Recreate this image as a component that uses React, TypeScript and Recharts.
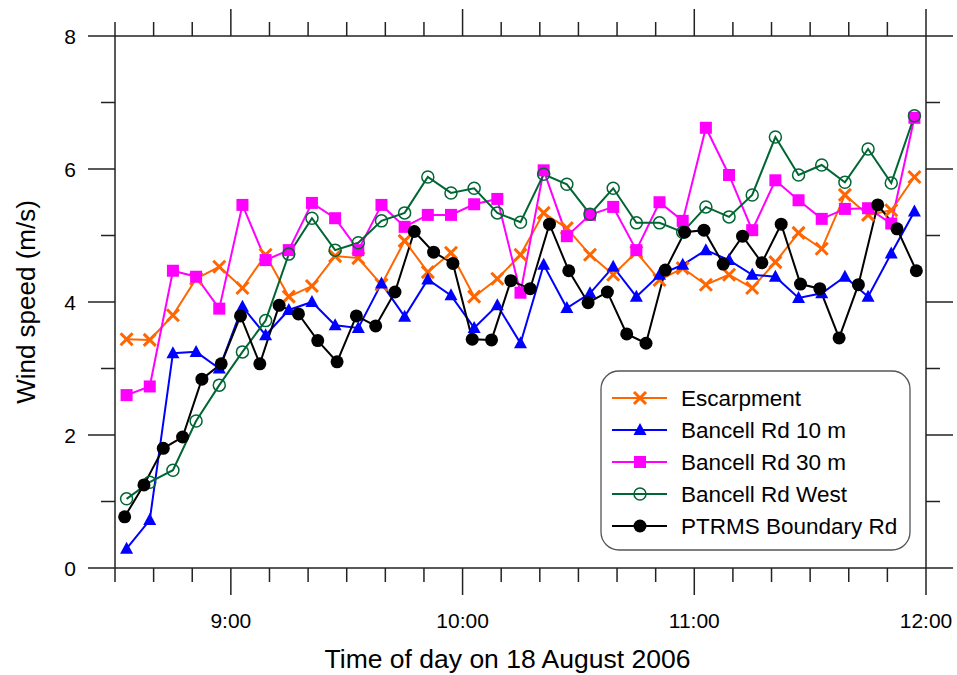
import React from 'react';
import { LineChart, Line, XAxis, YAxis, Label } from 'recharts';

// sample times (hh:mm[:ss]) and wind speeds (m/s)
const timesSixMin = [
  '08:33', '08:39', '08:45', '08:51', '08:57', '09:03', '09:09', '09:15', '09:21', '09:27',
  '09:33', '09:39', '09:45', '09:51', '09:57', '10:03', '10:09', '10:15', '10:21', '10:27',
  '10:33', '10:39', '10:45', '10:51', '10:57', '11:03', '11:09', '11:15', '11:21', '11:27',
  '11:33', '11:39', '11:45', '11:51', '11:57',
];

const escarpment = [
  3.44, 3.43, 3.8, 4.35, 4.53, 4.21, 4.71, 4.08, 4.24, 4.69,
  4.66, 4.26, 4.92, 4.45, 4.74, 4.08, 4.35, 4.71, 5.34, 5.11,
  4.71, 4.41, 4.75, 4.33, 4.51, 4.26, 4.41, 4.21, 4.6, 5.04,
  4.8, 5.61, 5.31, 5.38, 5.88,
];

const bancell10 = [
  0.29, 0.72, 3.23, 3.25, 3.0, 3.93, 3.5, 3.88, 4.0, 3.65,
  3.61, 4.28, 3.78, 4.34, 4.1, 3.61, 3.95, 3.38, 4.56, 3.91,
  4.13, 4.53, 4.08, 4.41, 4.56, 4.78, 4.63, 4.41, 4.38, 4.06,
  4.13, 4.38, 4.08, 4.73, 5.36,
];

const bancell30 = [
  2.6, 2.73, 4.47, 4.38, 3.9, 5.46, 4.63, 4.78, 5.49, 5.26,
  4.78, 5.46, 5.13, 5.31, 5.31, 5.47, 5.55, 4.14, 5.98, 4.99,
  5.31, 5.43, 4.78, 5.5, 5.22, 6.62, 5.91, 5.08, 5.83, 5.53,
  5.25, 5.4, 5.41, 5.18, 6.77,
];

const bancellWest = [
  1.04, 1.29, 1.47, 2.21, 2.75, 3.25, 3.72, 4.72, 5.26, 4.78,
  4.89, 5.22, 5.34, 5.88, 5.64, 5.71, 5.34, 5.2, 5.92, 5.77,
  5.32, 5.71, 5.19, 5.19, 5.05, 5.43, 5.28, 5.61, 6.48, 5.91,
  6.06, 5.8, 6.3, 5.79, 6.8,
];

const timesFiveMin = [
  '08:32:30', '08:37:30', '08:42:30', '08:47:30', '08:52:30', '08:57:30',
  '09:02:30', '09:07:30', '09:12:30', '09:17:30', '09:22:30', '09:27:30',
  '09:32:30', '09:37:30', '09:42:30', '09:47:30', '09:52:30', '09:57:30',
  '10:02:30', '10:07:30', '10:12:30', '10:17:30', '10:22:30', '10:27:30',
  '10:32:30', '10:37:30', '10:42:30', '10:47:30', '10:52:30', '10:57:30',
  '11:02:30', '11:07:30', '11:12:30', '11:17:30', '11:22:30', '11:27:30',
  '11:32:30', '11:37:30', '11:42:30', '11:47:30', '11:52:30', '11:57:30',
];

const ptrmsBoundary = [
  0.77, 1.25, 1.8, 1.97, 2.84, 3.07, 3.79, 3.07, 3.95, 3.82,
  3.42, 3.1, 3.79, 3.64, 4.15, 5.06, 4.75, 4.58, 3.44, 3.43,
  4.32, 4.2, 5.17, 4.47, 3.99, 4.15, 3.52, 3.38, 4.48, 5.05,
  5.08, 4.57, 4.99, 4.59, 5.17, 4.27, 4.2, 3.46, 4.26, 5.46,
  5.1, 4.47,
];

// x ticks in minutes since midnight (every 10 min, 8:30 - 12:00)
const xTicks = [
  510, 520, 530, 540, 550, 560, 570, 580, 590, 600, 610,
  620, 630, 640, 650, 660, 670, 680, 690, 700, 710, 720,
];
const hourLabels: Record<number, string> = { 540: '9:00', 600: '10:00', 660: '11:00', 720: '12:00' };
const yTicks = [0, 1, 2, 3, 4, 5, 6, 7, 8];

const toMin = (s: string) => {
  const [h, m, sec] = s.split(':').map(Number);
  return h * 60 + m + (sec || 0) / 60;
};
const rows = (times: string[], vals: number[]) => times.map((t, i) => ({ t: toMin(t), v: vals[i] }));

type Shape = 'cross' | 'triangle' | 'square' | 'ring' | 'dot';

const series: { name: string; color: string; shape: Shape; data: { t: number; v: number }[] }[] = [
  { name: 'Escarpment', color: '#ff6600', shape: 'cross', data: rows(timesSixMin, escarpment) },
  { name: 'Bancell Rd 10 m', color: '#0000ff', shape: 'triangle', data: rows(timesSixMin, bancell10) },
  { name: 'Bancell Rd 30 m', color: '#ff00ff', shape: 'square', data: rows(timesSixMin, bancell30) },
  { name: 'Bancell Rd West', color: '#006633', shape: 'ring', data: rows(timesSixMin, bancellWest) },
  { name: 'PTRMS Boundary Rd', color: '#000000', shape: 'dot', data: rows(timesFiveMin, ptrmsBoundary) },
];

const AXIS = '#222';
const FONT = '"Liberation Sans", Arial, sans-serif';

const Marker = ({ cx, cy, shape, color }: { cx: number; cy: number; shape: Shape; color: string }) => {
  if (cx == null || cy == null) return null;
  switch (shape) {
    case 'cross':
      return (
        <g stroke={color} strokeWidth={3}>
          <line x1={cx - 6} y1={cy - 6} x2={cx + 6} y2={cy + 6} />
          <line x1={cx - 6} y1={cy + 6} x2={cx + 6} y2={cy - 6} />
        </g>
      );
    case 'triangle':
      return <polygon points={`${cx},${cy - 7} ${cx - 6.5},${cy + 5} ${cx + 6.5},${cy + 5}`} fill={color} />;
    case 'square':
      return <rect x={cx - 6} y={cy - 6} width={12} height={12} fill={color} />;
    case 'ring':
      return <circle cx={cx} cy={cy} r={6} fill="none" stroke={color} strokeWidth={1.5} />;
    default:
      return <circle cx={cx} cy={cy} r={6.5} fill={color} />;
  }
};

const BottomTick = ({ x, y, payload }: any) => {
  const major = payload.value % 60 === 0;
  return (
    <g>
      <line x1={x} x2={x} y1={y} y2={y + (major ? 27 : 14)} stroke={AXIS} strokeWidth={1.5} />
      {major && (
        <text x={x} y={y + 52} textAnchor="middle" dominantBaseline="central" fontSize={21} fill="#000">
          {hourLabels[payload.value]}
        </text>
      )}
    </g>
  );
};

const TopTick = ({ x, y, payload }: any) => {
  const major = payload.value % 60 === 0;
  return <line x1={x} x2={x} y1={y} y2={y - (major ? 27 : 14)} stroke={AXIS} strokeWidth={1.5} />;
};

const LeftTick = ({ x, y, payload }: any) => {
  const major = payload.value % 2 === 0;
  return (
    <g>
      <line x1={x} x2={x - (major ? 27 : 14)} y1={y} y2={y} stroke={AXIS} strokeWidth={1.5} />
      {major && (
        <text x={x - 39} y={y} textAnchor="end" dominantBaseline="central" fontSize={21} fill="#000">
          {payload.value}
        </text>
      )}
    </g>
  );
};

const RightTick = ({ x, y, payload }: any) => {
  const major = payload.value % 2 === 0;
  return <line x1={x} x2={x + (major ? 27 : 14)} y1={y} y2={y} stroke={AXIS} strokeWidth={1.5} />;
};

const XTitle = ({ viewBox }: any) => (
  <text x={viewBox.x + viewBox.width / 2 - 13} y={668} textAnchor="middle" fontSize={26.5} fill="#000">
    Time of day on 18 August 2006
  </text>
);

const YTitle = ({ viewBox }: any) => {
  const cx = 26;
  const cy = viewBox.y + viewBox.height / 2;
  return (
    <text
      x={cx}
      y={cy}
      transform={`rotate(-90 ${cx} ${cy})`}
      textAnchor="middle"
      dominantBaseline="central"
      fontSize={26}
      fill="#000"
    >
      Wind speed (m/s)
    </text>
  );
};

const LegendBox = () => (
  <svg width={312} height={182} style={{ position: 'absolute', left: 600, top: 370, fontFamily: FONT }}>
    <rect x={1} y={1} width={309} height={179} rx={18} fill="#fff" stroke="#555" strokeWidth={1.3} />
    {series.map((s, i) => {
      const y = 28 + i * 32;
      return (
        <g key={s.name}>
          <line x1={12} x2={67} y1={y} y2={y} stroke={s.color} strokeWidth={2} />
          <Marker cx={40} cy={y} shape={s.shape} color={s.color} />
          <text x={81} y={y} dominantBaseline="central" fontSize={22.5} fill="#000">
            {s.name}
          </text>
        </g>
      );
    })}
  </svg>
);

export default function App() {
  return (
    <div style={{ position: 'absolute', left: 0, top: 0, width: 957, height: 675, background: '#fff', fontFamily: FONT }}>
      <LineChart width={957} height={675} margin={{ top: 0, right: 0, bottom: 0, left: 0 }}>
        <XAxis
          dataKey="t"
          type="number"
          domain={[510, 720]}
          ticks={xTicks}
          interval={0}
          height={107}
          tickSize={0}
          tickMargin={0}
          tick={<BottomTick />}
          tickLine={false}
          axisLine={{ stroke: AXIS, strokeWidth: 1.5 }}
          allowDataOverflow
        >
          <Label content={<XTitle />} />
        </XAxis>
        <XAxis
          xAxisId="top"
          orientation="top"
          dataKey="t"
          type="number"
          domain={[510, 720]}
          ticks={xTicks}
          interval={0}
          height={36}
          tickSize={0}
          tickMargin={0}
          tick={<TopTick />}
          tickLine={false}
          axisLine={{ stroke: AXIS, strokeWidth: 1.5 }}
          allowDataOverflow
        />
        <YAxis
          type="number"
          domain={[0, 8]}
          ticks={yTicks}
          interval={0}
          width={115}
          tickSize={0}
          tickMargin={0}
          tick={<LeftTick />}
          tickLine={false}
          axisLine={{ stroke: AXIS, strokeWidth: 1.5 }}
          allowDataOverflow
        >
          <Label content={<YTitle />} />
        </YAxis>
        <YAxis
          yAxisId="right"
          orientation="right"
          type="number"
          domain={[0, 8]}
          ticks={yTicks}
          interval={0}
          width={31}
          tickSize={0}
          tickMargin={0}
          tick={<RightTick />}
          tickLine={false}
          axisLine={{ stroke: AXIS, strokeWidth: 1.5 }}
          allowDataOverflow
        />
        {series.map((s) => (
          <Line
            key={s.name}
            data={s.data}
            dataKey="v"
            name={s.name}
            type="linear"
            stroke={s.color}
            strokeWidth={2}
            isAnimationActive={false}
            dot={(p: any) => <Marker key={`${s.name}-${p.index}`} cx={p.cx} cy={p.cy} shape={s.shape} color={s.color} />}
            activeDot={false}
          />
        ))}
      </LineChart>
      <LegendBox />
    </div>
  );
}
